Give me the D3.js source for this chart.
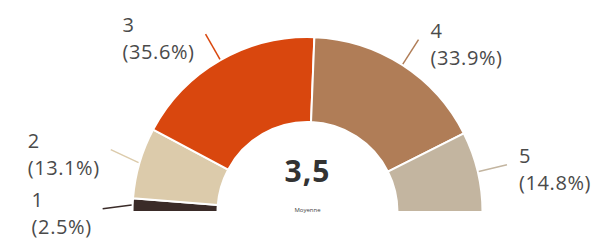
<!DOCTYPE html>
<meta charset="utf-8">
<script src="https://d3js.org/d3.v7.min.js"></script>
<style>
  body { margin: 0; background: #fff; }
</style>
<div id="chart"></div>
<script>

// data
var categories = ["1", "2", "3", "4", "5"];
var percents = [2.5, 13.1, 35.6, 33.9, 14.8];
var colors = ["#3a2b28", "#dccbab", "#d9470e", "#b07d57", "#c3b5a0"];
var centerLabel = "Moyenne";

var width = 602, height = 242;
var cx = 307.5, cy = 212,
    outerR = 175, innerR = 90;

var svg = d3.select("#chart").append("svg")
    .attr("width", width)
    .attr("height", height);

var g = svg.append("g")
    .attr("transform", "translate(" + cx + "," + cy + ")");

var pie = d3.pie()
    .sort(null)
    .startAngle(-Math.PI / 2)
    .endAngle(Math.PI / 2)
    .value(function(d) { return d; });

var arc = d3.arc()
    .innerRadius(innerR)
    .outerRadius(outerR);

var arcs = pie(percents);

g.selectAll("path.slice")
    .data(arcs)
    .enter().append("path")
    .attr("class", "slice")
    .attr("d", arc)
    .attr("fill", function(d, i) { return colors[i]; })
    .attr("stroke", "#fff")
    .attr("stroke-width", 2);

// label anchors: leader lines go out radially, then labels on the same side
// get pushed apart so the two-line blocks don't overlap
var r0 = outerR + 1, r1 = outerR + 30;
var labels = arcs.map(function(d, i) {
  var mid = (d.startAngle + d.endAngle) / 2;
  return {
    i: i,
    ax: Math.sin(mid) * r0, ay: -Math.cos(mid) * r0,
    ex: Math.sin(mid) * r1, ey: -Math.cos(mid) * r1,
    side: mid < 0 ? "left" : "right"
  };
});

var minGap = 59;
["left", "right"].forEach(function(side) {
  var list = labels.filter(function(l) { return l.side === side; })
      .sort(function(a, b) { return a.ey - b.ey; });
  for (var it = 0; it < 20; it++) {
    for (var k = 1; k < list.length; k++) {
      var overlap = minGap - (list[k].ey - list[k - 1].ey);
      if (overlap > 0) {
        list[k - 1].ey -= overlap / 2;
        list[k].ey += overlap / 2;
      }
    }
  }
});

g.selectAll("line.leader")
    .data(labels)
    .enter().append("line")
    .attr("class", "leader")
    .attr("x1", function(d) { return d.ax; })
    .attr("y1", function(d) { return d.ay; })
    .attr("x2", function(d) { return d.ex; })
    .attr("y2", function(d) { return d.ey; })
    .attr("stroke", function(d) { return colors[d.i]; })
    .attr("stroke-width", 1.5);

var fmtPct = function(v) { return "(" + v.toFixed(1) + "%)"; };

var texts = g.selectAll("text.lbl")
    .data(labels)
    .enter().append("text")
    .attr("class", "lbl")
    .style("font-family", "'Open Sans', sans-serif")
    .style("font-size", "20px")
    .style("letter-spacing", "0.6px")
    .attr("fill", "#4a4a4a");

texts.append("tspan")
    .attr("class", "l1")
    .attr("y", function(d) { return d.ey - 2; })
    .text(function(d) { return categories[d.i]; });

texts.append("tspan")
    .attr("class", "l2")
    .attr("y", function(d) { return d.ey + 25; })
    .text(function(d) { return fmtPct(percents[d.i]); });

texts.each(function(d) {
  var t = d3.select(this);
  var w = 0;
  t.selectAll("tspan").each(function() {
    w = Math.max(w, this.getComputedTextLength());
  });
  var x = d.side === "left" ? d.ex - 11 - w : d.ex + 12;
  t.selectAll("tspan").attr("x", x);
});

// weighted mean, french decimal comma
var total = d3.sum(percents);
var mean = d3.sum(percents, function(v, i) { return v * (+categories[i]); }) / total;

g.append("text")
    .attr("text-anchor", "middle")
    .attr("y", -30)
    .style("font-family", "'Open Sans', sans-serif")
    .style("font-size", "30px")
    .style("font-weight", "bold")
    .style("letter-spacing", "1px")
    .attr("fill", "#333")
    .text(mean.toFixed(1).replace(".", ","));

g.append("text")
    .attr("text-anchor", "middle")
    .attr("y", 0)
    .style("font-family", "'Open Sans', sans-serif")
    .style("font-size", "6px")
    .attr("fill", "#444")
    .text(centerLabel);

</script>
